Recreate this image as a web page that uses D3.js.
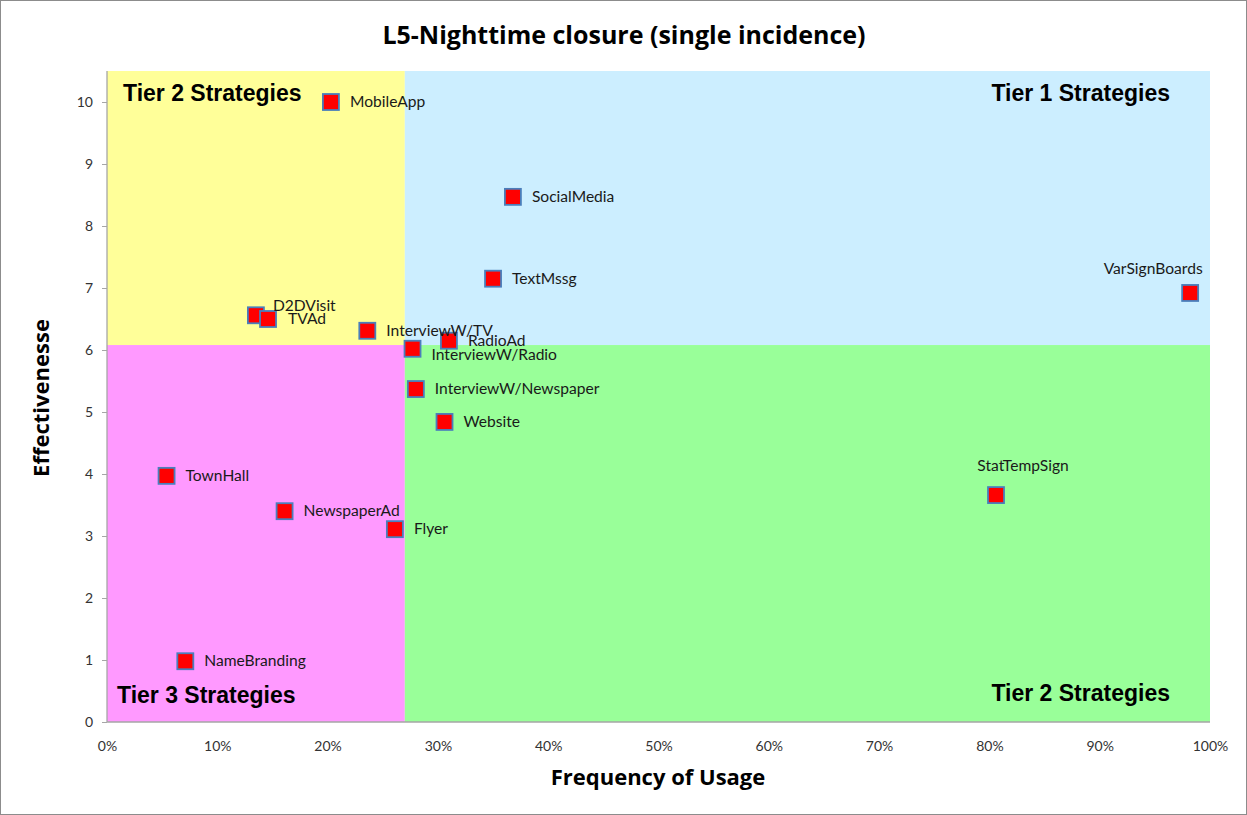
<!DOCTYPE html>
<html><head><meta charset="utf-8">
<script src="https://cdn.jsdelivr.net/npm/d3@7"></script>
<style>body{margin:0;background:#fff}svg{display:block}</style>
</head><body>
<script>
// ---- data ----
const names = ["MobileApp","SocialMedia","TextMssg","VarSignBoards","D2DVisit","TVAd","InterviewW/TV","RadioAd","InterviewW/Radio","InterviewW/Newspaper","Website","TownHall","NewspaperAd","Flyer","NameBranding","StatTempSign"];
const frequency = [0.203,0.368,0.350,0.982,0.135,0.146,0.236,0.310,0.277,0.280,0.306,0.054,0.161,0.261,0.071,0.806];
const effectiveness = [10.0,8.47,7.15,6.92,6.56,6.50,6.31,6.15,6.02,5.37,4.84,3.97,3.40,3.11,0.98,3.66];
const xTicks = [0,0.1,0.2,0.3,0.4,0.5,0.6,0.7,0.8,0.9,1.0];
const yTicks = [0,1,2,3,4,5,6,7,8,9,10];
const xSplit = 0.27, ySplit = 6.08;
const quadrantLabels = ["Tier 2 Strategies","Tier 1 Strategies","Tier 3 Strategies","Tier 2 Strategies"];

// ---- layout ----
const W = 1247, H = 815;
const m = {left:107, right:1210, top:71, bottom:722};
const svg = d3.select("body").append("svg").attr("width",W).attr("height",H);
svg.append("rect").attr("x",0.5).attr("y",0.5).attr("width",W-1).attr("height",H-1)
  .attr("fill","#fff").attr("stroke","#8c8c8c");

const x = d3.scaleLinear().domain([0,1]).range([m.left,m.right]);
const y = d3.scaleLinear().domain([0,10.5]).range([m.bottom,m.top]);

// quadrants
const quads = [
  {x0:0,x1:xSplit,y0:ySplit,y1:10.5,c:"#ffff99"},
  {x0:xSplit,x1:1,y0:ySplit,y1:10.5,c:"#cceeff"},
  {x0:0,x1:xSplit,y0:0,y1:ySplit,c:"#ff99ff"},
  {x0:xSplit,x1:1,y0:0,y1:ySplit,c:"#99ff99"}
];
svg.append("g").selectAll("rect").data(quads).join("rect")
  .attr("x",d=>x(d.x0)).attr("y",d=>y(d.y1))
  .attr("width",d=>x(d.x1)-x(d.x0)).attr("height",d=>y(d.y0)-y(d.y1))
  .attr("fill",d=>d.c);

// quadrant labels
const qf = "Liberation Sans, Arial, sans-serif";
const qpos = [
  {x:123, y:101, a:"start"},
  {x:1170, y:101, a:"end"},
  {x:117, y:703, a:"start"},
  {x:1170, y:701, a:"end"}
];
svg.append("g").selectAll("text").data(quadrantLabels).join("text")
  .attr("x",(d,i)=>qpos[i].x).attr("y",(d,i)=>qpos[i].y)
  .attr("text-anchor",(d,i)=>qpos[i].a)
  .attr("font-family",qf).attr("font-weight","bold").attr("font-size",23)
  .attr("fill","#000").text(d=>d);

// axes
const axisColor = "#a6a6a6";
const gy = svg.append("g").attr("transform",`translate(${m.left},0)`)
  .call(d3.axisLeft(y).tickValues(yTicks).tickSize(5).tickPadding(9).tickFormat(d3.format("d")));
const gx = svg.append("g").attr("transform",`translate(0,${m.bottom})`)
  .call(d3.axisBottom(x).tickValues(xTicks).tickSize(0).tickPadding(19).tickFormat(d3.format(".0%")));
[gx,gy].forEach(g=>{
  g.select(".domain").attr("stroke",axisColor).attr("stroke-width",1.3);
  g.selectAll(".tick line").attr("stroke",axisColor);
  g.selectAll("text").attr("font-family","Lato, 'Open Sans', sans-serif").attr("font-size",14).attr("fill","#333");
});
gy.select(".domain").attr("d",`M0,${m.bottom}V${m.top}`);
gx.select(".domain").attr("d",`M${m.left},0H${m.right}`);

// points
const pts = names.map((n,i)=>({n, f:frequency[i], e:effectiveness[i]}));
const sz = 16;
svg.append("g").selectAll("rect").data(pts).join("rect")
  .attr("x",d=>x(d.f)-sz/2).attr("y",d=>y(d.e)-sz/2)
  .attr("width",sz).attr("height",sz)
  .attr("fill","#ff0000").attr("stroke","#4a7ebb").attr("stroke-width",1.8);

// labels
const place = {
  "D2DVisit":{dx:17,dy:-4,a:"start"},
  "TVAd":{dx:20,dy:5,a:"start"},
  "InterviewW/Radio":{dx:19,dy:11,a:"start"},
  "VarSignBoards":{dx:-37,dy:-19,a:"middle"},
  "StatTempSign":{dx:27,dy:-24,a:"middle"}
};
svg.append("g").selectAll("text").data(pts).join("text")
  .attr("x",d=>x(d.f)+(place[d.n]?place[d.n].dx:19))
  .attr("y",d=>y(d.e)+(place[d.n]?place[d.n].dy:5))
  .attr("text-anchor",d=>place[d.n]?place[d.n].a:"start")
  .attr("font-family","Lato, 'Open Sans', sans-serif").attr("font-size",15.6)
  .attr("fill","#1a1a1a").text(d=>d.n);

// titles
svg.append("text").attr("x",624).attr("y",44).attr("text-anchor","middle")
  .attr("font-family","Open Sans, sans-serif").attr("font-weight","bold").attr("font-size",25)
  .attr("fill","#000").text("L5-Nighttime closure (single incidence)");
svg.append("text").attr("x",658).attr("y",785).attr("text-anchor","middle")
  .attr("font-family","Open Sans, sans-serif").attr("font-weight","bold").attr("font-size",22)
  .attr("fill","#000").text("Frequency of Usage");
svg.append("text").attr("transform","translate(49,398) rotate(-90)").attr("text-anchor","middle")
  .attr("font-family","Open Sans, sans-serif").attr("font-weight","bold").attr("font-size",22)
  .attr("fill","#000").text("Effectivenesse");
</script>
</body></html>
